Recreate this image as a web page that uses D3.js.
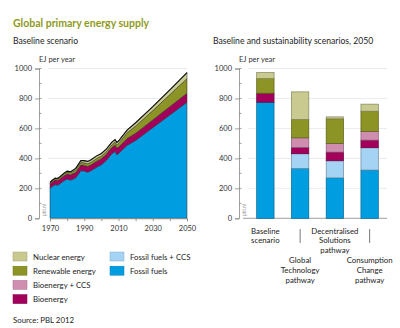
<!DOCTYPE html>
<html>
<head>
<meta charset="utf-8">
<script src="https://cdn.jsdelivr.net/npm/d3@7"></script>
<style>
  html, body { margin: 0; padding: 0; background: #fff; }
  svg { display: block; font-family: Lato, 'Open Sans', sans-serif; }
</style>
</head>
<body>
<div id="chart"></div>
<script>
/* Global primary energy supply – baseline area + 2050 scenario bars */

// ─── Data: baseline scenario, history + projection (EJ per year) ───
const years       = [1970, 1971, 1973, 1974, 1975, 1978, 1980, 1982, 1985, 1988, 1990, 1992, 1994, 1997, 2000, 2003, 2006, 2008, 2009, 2010, 2015, 2020, 2030, 2040, 2050];
const fossilHist  = [200, 210, 225, 222, 224, 250, 262, 255, 270, 318, 316, 308, 318, 340, 358, 388, 430, 447, 425, 432, 487, 520, 605, 690, 775];
const bioHist     = [28, 29, 30, 30, 31, 33, 34, 35, 36, 37, 38, 38, 39, 40, 40, 41, 42, 43, 44, 44, 46, 48, 52, 56, 60];
const renewHist   = [10, 10, 11, 11, 12, 13, 14, 15, 17, 17, 17, 18, 18, 18, 18, 17, 18, 19, 21, 23, 38, 48, 62, 80, 98];
const nuclearHist = [2, 2, 2, 3, 3, 4, 5, 6, 10, 13, 14, 16, 16, 17, 17, 17, 17, 17, 17, 17, 18, 22, 26, 32, 40];

// ─── Data: scenarios in 2050 (EJ per year) ───
const scenarios     = ['Baseline scenario', 'Global Technology pathway', 'Decentralised Solutions pathway', 'Consumption Change pathway'];
const scenarioLines = [['Baseline', 'scenario'], ['Global', 'Technology', 'pathway'], ['Decentralised', 'Solutions', 'pathway'], ['Consumption', 'Change', 'pathway']];
const fossil2050    = [775, 333, 270, 322];
const fossilCcs2050 = [0, 98, 114, 149];
const bio2050       = [60, 42, 58, 51];
const bioCcs2050    = [0, 64, 58, 58];
const renew2050     = [98, 123, 164, 135];
const nuclear2050   = [40, 184, 13, 47];

const yTicks     = [0, 200, 400, 600, 800, 1000];
const xTickYears = [1970, 1990, 2010, 2030, 2050];

// ─── Series (stack order bottom → top) ───
const series = [
  { key: 'fossil',    label: 'Fossil fuels',       color: '#009ee0' },
  { key: 'fossilCcs', label: 'Fossil fuels + CCS', color: '#a5d3f3' },
  { key: 'bio',       label: 'Bioenergy',          color: '#a3005c' },
  { key: 'bioCcs',    label: 'Bioenergy + CCS',    color: '#cf8db0' },
  { key: 'renew',     label: 'Renewable energy',   color: '#8c9425' },
  { key: 'nuclear',   label: 'Nuclear energy',     color: '#c9ca8f' },
];
const colorOf = Object.fromEntries(series.map(s => [s.key, s.color]));

const W = 400, H = 328;
const svg = d3.select('#chart').append('svg').attr('width', W).attr('height', H);

// ─── Titles ───
svg.append('text').attr('x', 13).attr('y', 27)
  .attr('fill', '#8f9a1c').attr('font-size', '10.5px').attr('font-weight', 700)
  .text('Global primary energy supply');
svg.append('text').attr('x', 13).attr('y', 44)
  .attr('fill', '#222').attr('font-size', '8.6px')
  .text('Baseline scenario');
svg.append('text').attr('x', 213).attr('y', 44)
  .attr('fill', '#222').attr('font-size', '8.6px')
  .text('Baseline and sustainability scenarios, 2050');

// ─── Shared y scale ───
const y = d3.scaleLinear().domain([0, 1000]).range([218.3, 68.5]);

function drawYAxis(axisX, gridX0, gridX1) {
  const g = svg.append('g');
  g.selectAll('line.grid').data(yTicks.filter(d => d > 0)).join('line')
    .attr('x1', gridX0).attr('x2', gridX1)
    .attr('y1', d => y(d)).attr('y2', d => y(d))
    .attr('stroke', '#e6e6e6').attr('stroke-width', 0.8);

  const ax = svg.append('g').attr('transform', `translate(${axisX},0)`)
    .call(d3.axisLeft(y).tickValues(yTicks).tickSize(4).tickPadding(3).tickFormat(d3.format('d')));
  ax.select('.domain').attr('stroke', '#888').attr('stroke-width', 0.8);
  ax.selectAll('.tick line').attr('stroke', '#888').attr('stroke-width', 0.8);
  ax.selectAll('.tick text').attr('font-size', '7.5px').attr('fill', '#333')
    .attr('font-family', 'Lato, sans-serif');
  // minor ticks
  ax.selectAll('line.minor').data(d3.range(100, 1000, 200)).join('line')
    .attr('x1', 0).attr('x2', 2.5)
    .attr('y1', d => y(d)).attr('y2', d => y(d))
    .attr('stroke', '#888').attr('stroke-width', 0.8);
  ax.selectAll('line.minor2').data(d3.range(200, 1001, 200)).join('line')
    .attr('x1', 0).attr('x2', 2.5)
    .attr('y1', d => y(d)).attr('y2', d => y(d))
    .attr('stroke', '#888').attr('stroke-width', 0.8);

  svg.append('text').attr('x', axisX).attr('y', 62)
    .attr('font-size', '7.5px').attr('fill', '#333').text('EJ per year');

  svg.append('text')
    .attr('transform', `translate(${axisX + 7},216) rotate(-90)`)
    .attr('font-size', '5px').attr('fill', '#999').text('pbl.nl');
}

// ═══ Left: stacked area ═══
const x = d3.scaleLinear().domain([1970, 2050]).range([50, 187]);
drawYAxis(39, 48, 187);

const histRows = years.map((yr, i) => ({
  year: yr, fossil: fossilHist[i], bio: bioHist[i], renew: renewHist[i], nuclear: nuclearHist[i],
}));
const areaKeys = ['fossil', 'bio', 'renew', 'nuclear'];
const areaStack = d3.stack().keys(areaKeys)(histRows);

const area = d3.area()
  .x(d => x(d.data.year))
  .y0(d => y(d[0]))
  .y1(d => y(d[1]));

svg.append('g').selectAll('path').data(areaStack).join('path')
  .attr('d', area)
  .attr('fill', d => colorOf[d.key])
  .attr('stroke', '#2a2a2a').attr('stroke-width', 0.5).attr('stroke-linejoin', 'round');

svg.append('path').datum(areaStack[areaStack.length - 1])
  .attr('d', d3.line().x(d => x(d.data.year)).y(d => y(d[1])))
  .attr('fill', 'none').attr('stroke', '#111').attr('stroke-width', 1.1);

// x axis
const xa = svg.append('g').attr('transform', `translate(0,${y(0)})`)
  .call(d3.axisBottom(x).tickValues(d3.range(1970, 2051, 10)).tickSize(3).tickPadding(4)
    .tickFormat(d => xTickYears.includes(d) ? d : ''));
xa.select('.domain').attr('stroke', '#888').attr('stroke-width', 0.8);
xa.selectAll('.tick line').attr('stroke', '#888').attr('stroke-width', 0.8);
xa.selectAll('.tick text').attr('font-size', '7.5px').attr('fill', '#333')
  .attr('font-family', 'Lato, sans-serif');

// ═══ Right: stacked bars ═══
drawYAxis(239, 248, 387);

const barRows = scenarios.map((s, i) => ({
  scenario: s, fossil: fossil2050[i], fossilCcs: fossilCcs2050[i], bio: bio2050[i],
  bioCcs: bioCcs2050[i], renew: renew2050[i], nuclear: nuclear2050[i],
}));
const barStack = d3.stack().keys(series.map(s => s.key))(barRows);

const xb = d3.scaleBand().domain(scenarios).range([248, 387])
  .paddingInner(0.5).paddingOuter(0.25);

svg.append('line').attr('x1', 243).attr('x2', 387)
  .attr('y1', y(0)).attr('y2', y(0)).attr('stroke', '#888').attr('stroke-width', 0.8);

svg.append('g').selectAll('g').data(barStack).join('g')
  .attr('fill', d => colorOf[d.key])
  .attr('stroke', d => d3.color(colorOf[d.key]).darker(1.2))
  .selectAll('rect').data(d => d.filter(v => v[1] - v[0] > 0)).join('rect')
  .attr('x', d => xb(d.data.scenario))
  .attr('width', xb.bandwidth())
  .attr('y', d => y(d[1]))
  .attr('height', d => y(d[0]) - y(d[1]))
  .attr('stroke-width', 0.7);

// category labels, alternating levels with leader lines
scenarios.forEach((s, i) => {
  const cx = xb(s) + xb.bandwidth() / 2;
  const low = i % 2 === 1;
  const top = low ? 260 : 230.5;
  if (low) {
    svg.append('line').attr('x1', cx).attr('x2', cx).attr('y1', 229).attr('y2', 243)
      .attr('stroke', '#555').attr('stroke-width', 0.8);
  }
  const t = svg.append('text').attr('text-anchor', 'middle')
    .attr('font-size', '7.8px').attr('fill', '#222');
  scenarioLines[i].forEach((line, j) => {
    t.append('tspan').attr('x', cx).attr('y', top + 3 + j * 9.8).text(line);
  });
});

// ═══ Legend ═══
const legendItems = [
  { key: 'nuclear', col: 0, row: 0 },
  { key: 'renew', col: 0, row: 1 },
  { key: 'bioCcs', col: 0, row: 2 },
  { key: 'bio', col: 0, row: 3 },
  { key: 'fossilCcs', col: 1, row: 0 },
  { key: 'fossil', col: 1, row: 1 },
];
const lg = svg.append('g').selectAll('g').data(legendItems).join('g')
  .attr('transform', d => `translate(${d.col ? 110 : 13},${252 + d.row * 14.2})`);
lg.append('rect').attr('width', 14).attr('height', 9)
  .attr('fill', d => colorOf[d.key])
  .attr('stroke', d => d3.color(colorOf[d.key]).darker(0.6)).attr('stroke-width', 0.5);
lg.append('text').attr('x', 20).attr('y', 7.5)
  .attr('font-size', '7.8px').attr('fill', '#222')
  .text(d => series.find(s => s.key === d.key).label);

svg.append('text').attr('x', 13).attr('y', 323)
  .attr('font-size', '7.8px').attr('fill', '#222').text('Source: PBL 2012');
</script>
</body>
</html>
